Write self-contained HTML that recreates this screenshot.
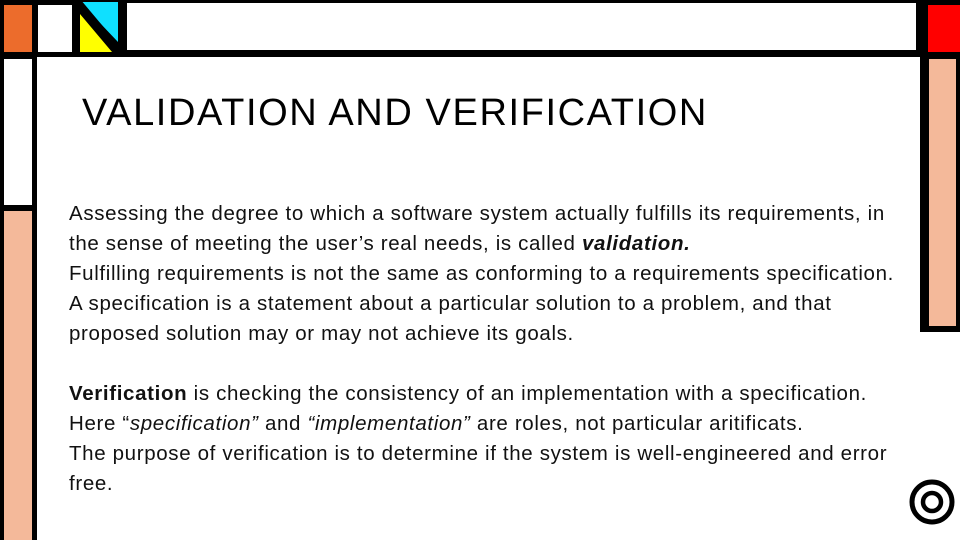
<!DOCTYPE html>
<html><head><meta charset="utf-8"><style>
body{margin:0;width:960px;height:540px;overflow:hidden;background:#fff;position:relative;font-family:"Liberation Sans",sans-serif}
.r{position:absolute}
.t{position:absolute;left:69px;top:199px;font-size:20.5px;line-height:30px;color:#111;letter-spacing:0.65px;white-space:nowrap}
</style></head><body>
<div class="r" style="left:0;top:0;width:960px;height:57px;background:#000"></div>
<div class="r" style="left:4px;top:5px;width:28px;height:47px;background:#ec6c2c"></div>
<div class="r" style="left:38px;top:5px;width:34px;height:47px;background:#fff"></div>
<svg class="r" style="left:78px;top:2px" width="44" height="52"><polygon points="2,0 40,0 40,40" fill="#0fe0ff"/><polygon points="2,12 2,50 34,50" fill="#ffff00"/><line x1="0" y1="0" x2="42" y2="50" stroke="#000" stroke-width="7"/></svg>
<div class="r" style="left:127px;top:3px;width:789px;height:47px;background:#fff"></div>
<div class="r" style="left:928px;top:5px;width:32px;height:47px;background:#ff0000"></div>
<div class="r" style="left:920px;top:52px;width:40px;height:280px;background:#000"></div>
<div class="r" style="left:929px;top:59px;width:27px;height:267px;background:#f4b99a"></div>
<div class="r" style="left:0;top:52px;width:37px;height:488px;background:#000"></div>
<div class="r" style="left:4px;top:59px;width:28px;height:146px;background:#fff"></div>
<div class="r" style="left:4px;top:211px;width:28px;height:329px;background:#f4b99a"></div>
<div class="r" style="left:82px;top:92px;font-size:38px;color:#000;letter-spacing:1.6px">VALIDATION AND VERIFICATION</div>
<div class="t">Assessing the degree to which a software system actually fulfills its requirements, in<br>the sense of meeting the user’s real needs, is called <b><i>validation.</i></b><br>Fulfilling requirements is not the same as conforming to a requirements specification.<br>A specification is a statement about a particular solution to a problem, and that<br>proposed solution may or may not achieve its goals.<br><br><b>Verification</b> is checking the consistency of an implementation with a specification.<br>Here “<i>specification”</i> and <i>“implementation”</i> are roles, not particular aritificats.<br>The purpose of verification is to determine if the system is well-engineered and error<br>free.</div>
<svg class="r" style="left:905px;top:476px" width="54" height="54"><circle cx="27" cy="26" r="20" fill="none" stroke="#000" stroke-width="5"/><circle cx="27" cy="26" r="9" fill="none" stroke="#000" stroke-width="4.5"/></svg>
</body></html>
